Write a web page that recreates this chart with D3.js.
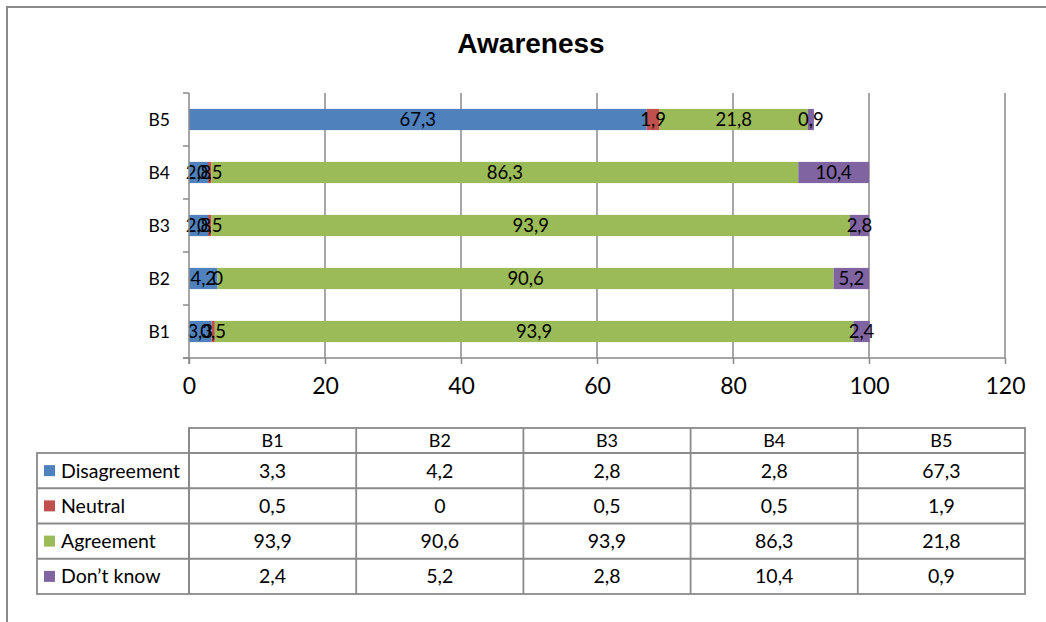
<!DOCTYPE html>
<html>
<head>
<meta charset="utf-8">
<script src="https://cdn.jsdelivr.net/npm/d3@7"></script>
<style>
  html, body { margin: 0; padding: 0; background: #fff; }
  svg { display: block; }
  text { font-family: Lato, "Open Sans", sans-serif; fill: #000; }
</style>
</head>
<body>
<svg id="chart" width="1046" height="622"></svg>
<script>
// Survey items and answer shares (percent)
const categories = ["B1", "B2", "B3", "B4", "B5"];
const seriesNames = ["Disagreement", "Neutral", "Agreement", "Don\u2019t know"];
const disagreement = [3.3, 4.2, 2.8, 2.8, 67.3];
const neutral = [0.5, 0, 0.5, 0.5, 1.9];
const agreement = [93.9, 90.6, 93.9, 86.3, 21.8];
const dontKnow = [2.4, 5.2, 2.8, 10.4, 0.9];
const xTicks = [0, 20, 40, 60, 80, 100, 120];
const colors = ["#4F81BD", "#C0504D", "#9BBB59", "#8064A2"];

const seriesValues = [disagreement, neutral, agreement, dontKnow];
const rows = categories.map((c, i) => {
  const r = { cat: c };
  seriesNames.forEach((s, k) => { r[s] = seriesValues[k][i]; });
  return r;
});

const locale = d3.formatLocale({ decimal: ",", thousands: ".", grouping: [3], currency: ["", ""] });
const fmt = locale.format(".1~f");

const svg = d3.select("#chart");
const gridColor = "#8a8a8a";

// outer frame (top and left edges)
svg.append("path")
  .attr("d", "M7,622V7H1046")
  .attr("fill", "none").attr("stroke", gridColor).attr("stroke-width", 2);

// title
svg.append("text")
  .attr("x", 531).attr("y", 53)
  .attr("text-anchor", "middle")
  .style("font-family", "'Liberation Sans', Arial, sans-serif")
  .style("font-weight", "bold").style("font-size", "28px")
  .text("Awareness");

// scales
const plot = { left: 189, right: 1005, top: 93, bottom: 358 };
const x = d3.scaleLinear().domain([0, 120]).range([plot.left, plot.right]);
const y = d3.scaleBand().domain(categories.slice().reverse())
  .range([plot.top, plot.bottom]).paddingInner(0.6).paddingOuter(0.3);
const yEdges = d3.scaleBand().domain(categories.slice().reverse())
  .range([plot.top, plot.bottom]);

// vertical gridlines
svg.append("g").selectAll("line")
  .data(xTicks.filter(t => t > 0))
  .join("line")
  .attr("x1", d => x(d)).attr("x2", d => x(d))
  .attr("y1", plot.top).attr("y2", plot.bottom)
  .attr("stroke", gridColor).attr("stroke-width", 1.5);

// stacked bars
const stack = d3.stack().keys(seriesNames)(rows);
const layers = svg.append("g").selectAll("g")
  .data(stack).join("g")
  .attr("fill", (d, i) => colors[i]);
layers.selectAll("rect")
  .data(d => d)
  .join("rect")
  .attr("x", d => x(d[0]))
  .attr("width", d => x(d[1]) - x(d[0]))
  .attr("y", d => y(d.data.cat))
  .attr("height", y.bandwidth());

// value labels centered on each segment
const labels = svg.append("g");
stack.forEach(layer => {
  labels.selectAll(null)
    .data(layer)
    .join("text")
    .attr("x", d => x((d[0] + d[1]) / 2))
    .attr("y", d => y(d.data.cat) + y.bandwidth() / 2)
    .attr("dy", "0.36em")
    .attr("text-anchor", "middle")
    .style("font-size", "18.5px")
    .text(d => fmt(d[1] - d[0]));
});

// x axis
const xAxis = svg.append("g")
  .attr("transform", `translate(0,${plot.bottom})`)
  .call(d3.axisBottom(x).tickValues(xTicks).tickSize(6).tickPadding(14).tickFormat(d => d));
xAxis.select(".domain").remove();
xAxis.selectAll(".tick line").attr("stroke", gridColor).attr("stroke-width", 1.5);
xAxis.selectAll(".tick text").style("font-size", "23px").style("font-family", "Lato, sans-serif");
svg.append("line")
  .attr("x1", plot.left - 6).attr("x2", plot.right)
  .attr("y1", plot.bottom).attr("y2", plot.bottom)
  .attr("stroke", gridColor).attr("stroke-width", 1.5);

// y axis with ticks on category boundaries
svg.append("line")
  .attr("x1", plot.left).attr("x2", plot.left)
  .attr("y1", plot.top).attr("y2", plot.bottom + 6)
  .attr("stroke", gridColor).attr("stroke-width", 1.5);
const edges = categories.map(c => yEdges(c)).concat([plot.bottom]);
svg.append("g").selectAll("line")
  .data(edges).join("line")
  .attr("x1", plot.left - 6).attr("x2", plot.left)
  .attr("y1", d => d).attr("y2", d => d)
  .attr("stroke", gridColor).attr("stroke-width", 1.5);
svg.append("g").selectAll("text")
  .data(categories).join("text")
  .attr("x", 170)
  .attr("y", d => y(d) + y.bandwidth() / 2)
  .attr("dy", "0.36em")
  .attr("text-anchor", "end")
  .style("font-size", "17.5px")
  .text(d => d);

// data table
const tbl = { left: 37, colStart: 189, right: 1025, headTop: 428, headBottom: 453, bottom: 594 };
const col = d3.scaleBand().domain(categories).range([tbl.colStart, tbl.right]);
const row = d3.scaleBand().domain(seriesNames).range([tbl.headBottom, tbl.bottom]);
const tg = svg.append("g");
const lineAttrs = sel => sel.attr("stroke", gridColor).attr("stroke-width", 1.8).attr("fill", "none");

// header cells
tg.append("rect")
  .attr("x", tbl.colStart).attr("y", tbl.headTop)
  .attr("width", tbl.right - tbl.colStart).attr("height", tbl.headBottom - tbl.headTop)
  .call(lineAttrs);
// body outline
tg.append("rect")
  .attr("x", tbl.left).attr("y", tbl.headBottom)
  .attr("width", tbl.right - tbl.left).attr("height", tbl.bottom - tbl.headBottom)
  .call(lineAttrs);
// row separators
tg.selectAll(".rowline")
  .data(seriesNames.slice(1)).join("line")
  .attr("x1", tbl.left).attr("x2", tbl.right)
  .attr("y1", d => row(d)).attr("y2", d => row(d))
  .call(lineAttrs);
// column separators
tg.selectAll(".colline")
  .data(categories).join("line")
  .attr("x1", d => col(d)).attr("x2", d => col(d))
  .attr("y1", d => d === categories[0] ? tbl.headBottom : tbl.headTop)
  .attr("y2", tbl.bottom)
  .call(lineAttrs);
tg.append("line")
  .attr("x1", tbl.colStart).attr("x2", tbl.colStart)
  .attr("y1", tbl.headTop).attr("y2", tbl.bottom)
  .call(lineAttrs);

// header labels
tg.selectAll(".head")
  .data(categories).join("text")
  .attr("x", d => col(d) + col.bandwidth() / 2)
  .attr("y", (tbl.headTop + tbl.headBottom) / 2)
  .attr("dy", "0.36em")
  .attr("text-anchor", "middle")
  .style("font-size", "18px")
  .text(d => d);

// legend keys and series names
const legendRows = tg.selectAll(".legend")
  .data(seriesNames).join("g")
  .attr("transform", d => `translate(0,${row(d) + row.bandwidth() / 2})`);
legendRows.append("rect")
  .attr("x", 44).attr("y", -5.5).attr("width", 11).attr("height", 11)
  .attr("fill", (d, i) => colors[i]);
legendRows.append("text")
  .attr("x", 61).attr("dy", "0.36em")
  .style("font-size", "19.5px")
  .text(d => d);

// values
seriesNames.forEach((s, k) => {
  tg.selectAll(null)
    .data(seriesValues[k]).join("text")
    .attr("x", (d, i) => col(categories[i]) + col.bandwidth() / 2)
    .attr("y", row(s) + row.bandwidth() / 2)
    .attr("dy", "0.36em")
    .attr("text-anchor", "middle")
    .style("font-size", "19.5px")
    .text(d => fmt(d));
});
</script>
</body>
</html>
